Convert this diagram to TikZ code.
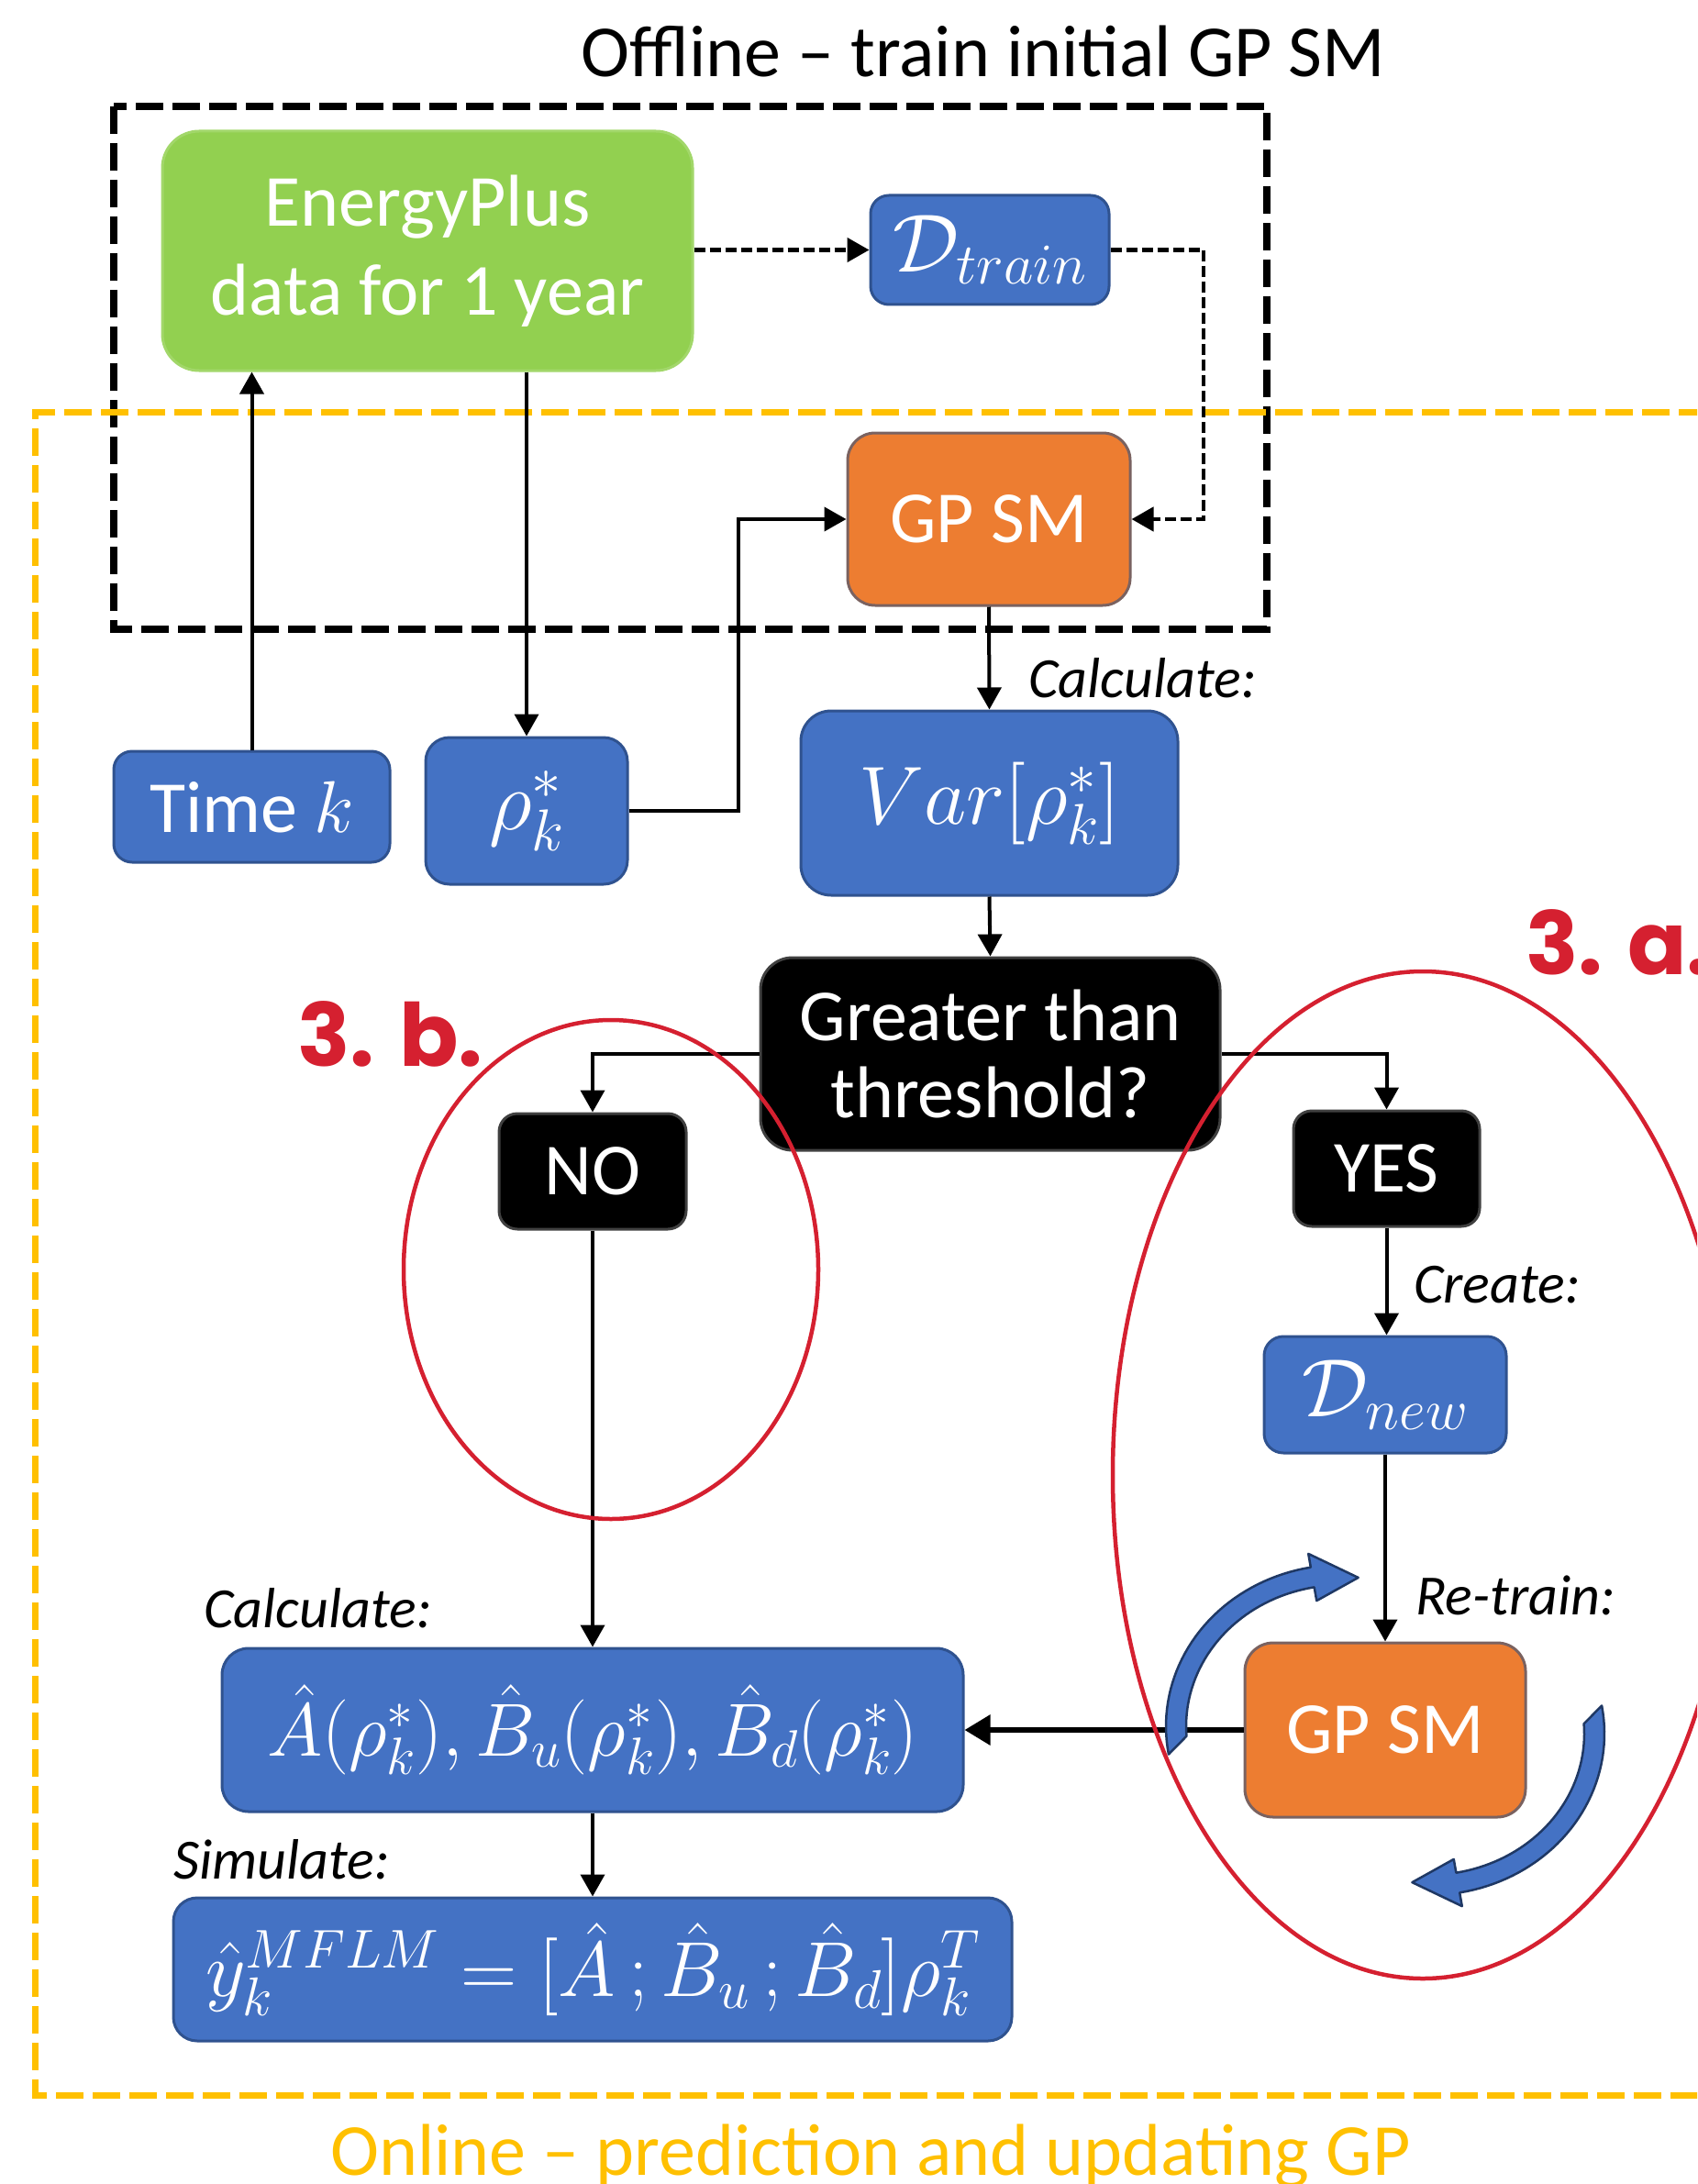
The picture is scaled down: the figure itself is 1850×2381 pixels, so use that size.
\RequirePackage{fix-cm}
\documentclass[tikz,border=0pt]{standalone}
\usepackage[no-math]{fontspec}
\setmainfont{Carlito}
\newfontfamily\labfont{Poppins}
\usetikzlibrary{arrows.meta,calc}
\definecolor{cblue}{HTML}{4472C4}
\definecolor{cblueD}{HTML}{2F528F}
\definecolor{arrD}{HTML}{1F3864}
\definecolor{corange}{HTML}{ED7D31}
\definecolor{corD}{HTML}{7A6260}
\definecolor{cgreen}{HTML}{92D050}
\definecolor{cgold}{HTML}{FFC000}
\definecolor{cred}{HTML}{D52030}
\newcommand\cArrow[6]{%
 \filldraw[fill=cblue,draw=arrD,line width=2.5pt,line join=round]
  plot[domain=#3:#5,samples=40] ({#1+191*cos(\x)},{#2-176*sin(\x)})
  -- ({#1+206*cos(#5)},{#2-191*sin(#5)})
  -- ({#1+178*cos(#6)},{#2-163*sin(#6)})
  -- ({#1+154*cos(#5)},{#2-139*sin(#5)})
  -- plot[domain=#5:#4,samples=40] ({#1+169*cos(\x)},{#2-154*sin(\x)})
  -- cycle;}
\begin{document}
\begin{tikzpicture}[x=1pt,y=-1pt,
  big/.style={font=\fontsize{80}{97}\selectfont},
  box/.style={draw=cblueD, line width=3pt, fill=cblue, text=white, inner sep=0pt, align=center, big},
  obox/.style={draw=corD, line width=3pt, fill=corange, text=white, inner sep=0pt, align=center, big},
  kbox/.style={draw=black!75, line width=3pt, fill=black, text=white, inner sep=0pt, align=center, big},
  lab/.style={font=\fontsize{62}{70}\selectfont\itshape, inner sep=0pt, anchor=base west},
  conn/.style={line width=4pt, -{Triangle[width=26pt,length=24pt]}},
  dconn/.style={line width=4.5pt, dash pattern=on 12pt off 5pt, -{Triangle[width=26pt,length=24pt]}},
  kframe/.style={line width=7.5pt, dash pattern=on 30pt off 10pt},
  oframe/.style={line width=7pt, dash pattern=on 30pt off 10pt, draw=cgold},
  redell/.style={draw=cred, line width=4.5pt},
  tag/.style={font=\labfont\bfseries\fontsize{95}{100}\selectfont, text=cred, inner sep=0pt, anchor=base west}
]
\useasboundingbox (0,0) rectangle (1850,2381);
\clip (0,0) rectangle (1850,2381);

% frames
\draw[kframe] (124,116) rectangle (1381,686);
\draw[oframe] (1900,449) -- (38,449) -- (38,2284) -- (1900,2284);

% titles
\node[font=\fontsize{80}{90}\selectfont, inner sep=0pt, anchor=base] (ttl1) at (1072,84) {Offline -- train initial GP SM};
\node[font=\fontsize{80}{90}\selectfont, inner sep=0pt, anchor=base, text=cgold] (ttl2) at (949,2371) {Online -- prediction and updating GP};

% nodes
\node[box, draw=cgreen!85!white, fill=cgreen, rounded corners=40pt, minimum width=578pt, minimum height=261pt] (ep) at (466,273.5) {EnergyPlus\\data for 1 year};
\node[box, rounded corners=20pt, minimum width=260pt, minimum height=119pt, font=\fontsize{90}{90}\selectfont] (dtrain) at (1079,272.5) {$\mathcal{D}_{train}$};
\node[obox, rounded corners=30pt, minimum width=308pt, minimum height=188pt] (gp1) at (1078,566) {GP SM};
\node[box, rounded corners=20pt, minimum width=301pt, minimum height=121pt] (timek) at (274.5,879.5) {Time $k$};
\node[box, rounded corners=26pt, minimum width=220pt, minimum height=160pt, font=\fontsize{92}{90}\selectfont] (rho) at (574,884) {$\rho_k^*$};
\node[box, rounded corners=33pt, minimum width=411pt, minimum height=201pt, font=\fontsize{90}{90}\selectfont] (var) at (1078.5,875.5) {$Var[\rho_k^*]$};
\node[kbox, rounded corners=35pt, minimum width=501pt, minimum height=210pt, font=\fontsize{80}{84}\selectfont] (thr) at (1079.5,1149) {Greater than\\threshold?};
\node[kbox, rounded corners=20pt, minimum width=204pt, minimum height=126pt] (no) at (646,1277) {NO};
\node[kbox, rounded corners=20pt, minimum width=203pt, minimum height=126pt] (yes) at (1511.5,1274) {YES};
\node[box, rounded corners=21pt, minimum width=264pt, minimum height=127pt, font=\fontsize{90}{90}\selectfont] (dnew) at (1510,1520.5) {$\mathcal{D}_{new}$};
\node[obox, rounded corners=31pt, minimum width=306pt, minimum height=190pt] (gp2) at (1510,1886) {GP SM};
\node[box, rounded corners=29pt, minimum width=808pt, minimum height=178pt, font=\fontsize{82}{90}\selectfont] (abox) at (646,1886) {$\hat{A}(\rho_k^*),\hat{B}_u(\rho_k^*),\hat{B}_d(\rho_k^*)$};
\node[box, rounded corners=26pt, minimum width=914pt, minimum height=156pt, font=\fontsize{85}{90}\selectfont] (ybox) at (646,2147) {$\hat{y}_k^{MFLM}=[\hat{A}\,;\hat{B}_u\,;\hat{B}_d]\rho_k^T$};

% labels
\node[lab] (l1) at (1121,760) {Calculate:};
\node[lab] (l2) at (1541,1420) {Create:};
\node[lab] (l3) at (1543,1760) {Re-train:};
\node[lab] (l4) at (222,1774) {Calculate:};
\node[lab] (l5) at (189,2048) {Simulate:};

% connectors
\draw[dconn] (dtrain.west -| ep.east) -- (dtrain.west);
\coordinate (dturn) at (1312,272.5);
\draw[dconn] (dtrain.east) -- (dturn) |- (gp1.east);
\draw[conn] (timek.north) -- (timek.north |- ep.south);
\draw[conn] (rho.north |- ep.south) -- (rho.north);
\coordinate (rturn) at (805,566);
\draw[conn] (rho.east) -| (rturn) -- (gp1.west);
\draw[conn] (gp1.south) -- (var.north);
\draw[conn] (var.south) -- (thr.north);
\draw[conn] (thr.west) -| (no.north);
\draw[conn] (thr.east) -| (yes.north);
\draw[conn] (yes.south) -- (yes.south |- dnew.north);
\draw[conn] (dnew.south) -- (gp2.north);
\draw[conn] (no.south) -- (no.south |- abox.north);
\draw[line width=6pt, -{Triangle[width=32pt,length=28pt]}] (gp2.west) -- (abox.east);
\draw[conn] (abox.south) -- (ybox.north);

% curved arrows around re-trained GP SM
\cArrow{1462}{1882}{190}{184}{100}{84}
\cArrow{1558}{1890}{10}{4}{-80}{-96}

% red ellipses and tags
\draw[redell] (666,1384) ellipse [x radius=226pt, y radius=272pt];
\draw[redell] (1551,1608) ellipse [x radius=338pt, y radius=549pt];
\node[tag] (t3b) at (324,1162) {3. b.};
\node[tag] (t3a) at (1663,1062) {3. a.};
\end{tikzpicture}
\end{document}
